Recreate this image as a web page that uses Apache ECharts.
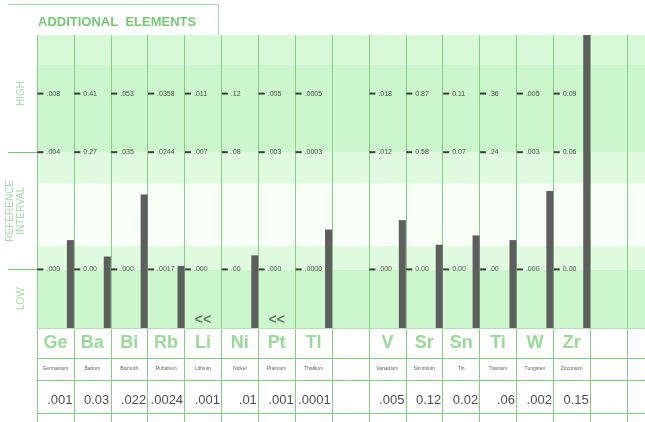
<!DOCTYPE html>
<html>
<head>
<meta charset="utf-8">
<script src="https://cdn.jsdelivr.net/npm/echarts@6/dist/echarts.min.js"></script>
<style>
  html, body { margin: 0; padding: 0; background: #fff; overflow: hidden; }
  /* the panel runs on past the right edge of the window, like the reference */
  #chart { width: 664px; height: 422px; }
</style>
</head>
<body>
<div id="chart"></div>
<script>
// columns of the panel, blanks are empty columns
const symbols = ['Ge', 'Ba', 'Bi', 'Rb', 'Li', 'Ni', 'Pt', 'Tl', '', 'V', 'Sr', 'Sn', 'Ti', 'W', 'Zr', '', ''];
const names = ['Germanium', 'Barium', 'Bismuth', 'Rubidium', 'Lithium', 'Nickel', 'Platinum', 'Thallium', '',
  'Vanadium', 'Strontium', 'Tin', 'Titanium', 'Tungsten', 'Zirconium', '', ''];
const results = ['.001', '0.03', '.022', '.0024', '.001', '.01', '.001', '.0001', '',
  '.005', '0.12', '0.02', '.06', '.002', '0.15', '', ''];
const highLabels = ['.008', '0.41', '.053', '.0358', '.011', '.12', '.005', '.0005', '',
  '.018', '0.87', '0.11', '.36', '.005', '0.09', '', ''];
const refHighLabels = ['.004', '0.27', '.035', '.0244', '.007', '.08', '.003', '.0003', '',
  '.012', '0.58', '0.07', '.24', '.003', '0.06', '', ''];
const refLowLabels = ['.000', '0.00', '.000', '.0017', '.000', '.00', '.000', '.0000', '',
  '.000', '0.00', '0.00', '.00', '.000', '0.00', '', ''];
// bar tops on the panel scale: 0 = bottom, 0.5 = ref low, 1.5 = ref high, 2.5 = top
const barLevels = [0.75, 0.61, 1.14, 0.53, null, 0.62, null, 0.84, null,
  0.92, 0.71, 0.79, 0.75, 1.17, 3.0, null, null];
const flags = ['', '', '', '', '<<', '', '<<', '', '', '', '', '', '', '', '', '', ''];

// where each row of column labels sits on the panel scale
const tickLevels = [2.0, 1.5, 0.5];
const tickLabelSets = [highLabels, refHighLabels, refLowLabels];
const sideLevels = [0.25, 1.0, 2.0];
const sideTexts = ['LOW', 'REFERENCE\nINTERVAL', 'HIGH'];

const keys = symbols.map((s, i) => 'c' + i);
const green = '#86cc86';
const font = 'Liberation Sans, Arial, sans-serif';

const tickPoints = [];
tickLevels.forEach((lv, k) => {
  tickLabelSets[k].forEach((t, i) => {
    if (t) tickPoints.push({ value: [i, lv], text: t });
  });
});

const rowPoints = (arr, y) => arr.map((t, i) => ({ value: [i, y], text: t })).filter(d => d.text);

const hidden = { color: 'rgba(0,0,0,0)' };

const myChart = echarts.init(document.getElementById('chart'));

const option = {
  animation: false,
  title: {
    text: 'ADDITIONAL  ELEMENTS',
    left: 33,
    top: 11,
    textStyle: { color: '#76c876', fontSize: 13, fontWeight: 'bold', fontFamily: font },
  },
  graphic: [{
    type: 'polyline',
    shape: { points: [[8, 4.5], [218.5, 4.5], [218.5, 35]] },
    style: { stroke: '#a8d4a8', fill: null, lineWidth: 1 },
  }],
  grid: [
    { left: 37, top: 35, right: 0, height: 293 },
    { left: 37, top: 328, right: 0, height: 94 },
  ],
  xAxis: [
    {
      gridIndex: 0, type: 'category', data: keys, position: 'top', z: 2,
      axisLine: { show: true, lineStyle: { color: '#b8dcb8' } },
      axisTick: { show: false }, axisLabel: { show: false },
      splitLine: { show: true, interval: 0, lineStyle: { color: green, width: 1 } },
    },
    {
      gridIndex: 1, type: 'category', data: keys, z: 2,
      axisLine: { show: false }, axisTick: { show: false }, axisLabel: { show: false },
      splitLine: { show: true, interval: 0, lineStyle: { color: green, width: 1 } },
    },
  ],
  yAxis: [
    {
      gridIndex: 0, type: 'value', min: 0, max: 2.5, interval: 0.25,
      axisLine: { show: false },
      splitLine: { show: false },
      axisTick: { show: true, customValues: [0.5, 1.5], length: 29, lineStyle: { color: '#7cc47c' } },
      axisLabel: {
        customValues: sideLevels,
        rotate: 90,
        margin: 10,
        color: '#a6dca6',
        fontSize: 10,
        lineHeight: 11,
        fontFamily: font,
        formatter: v => sideTexts[sideLevels.indexOf(v)] || '',
      },
    },
    { gridIndex: 1, type: 'value', min: 0, max: 94, inverse: true, show: false },
  ],
  series: [
    {
      // empty companion that pushes the real bar to the right edge of its column
      type: 'bar', xAxisIndex: 0, yAxisIndex: 0,
      data: symbols.map(() => '-'),
      barWidth: '81%',
      barGap: '0%',
      silent: true,
      markArea: {
        silent: true,
        z: 1,
        data: [
          [{ yAxis: 0, itemStyle: { color: '#ccf7cc' } }, { yAxis: 0.5 }],
          [{ yAxis: 0.5, itemStyle: { color: '#e1fbe1' } }, { yAxis: 0.7 }],
          [{ yAxis: 0.7, itemStyle: { color: '#f7fff7' } }, { yAxis: 1.23 }],
          [{ yAxis: 1.23, itemStyle: { color: '#e1fbe1' } }, { yAxis: 1.5 }],
          [{ yAxis: 1.5, itemStyle: { color: '#ccf7cc' } }, { yAxis: 2.25 }],
          [{ yAxis: 2.25, itemStyle: { color: '#d8f9d8' } }, { yAxis: 2.5 }],
        ],
      },
    },
    {
      type: 'bar', xAxisIndex: 0, yAxisIndex: 0,
      data: barLevels.map(v => (v == null ? '-' : v)),
      barWidth: '19%',
      barGap: '0%',
      clip: true,
      z: 3,
      itemStyle: { color: '#5e5e5e' },
      silent: true,
    },
    {
      // little black dashes at the left of each column
      type: 'scatter', xAxisIndex: 0, yAxisIndex: 0, z: 4,
      symbol: 'rect', symbolSize: [6, 2], symbolOffset: [-15, 0],
      itemStyle: { color: '#111' },
      data: tickPoints,
      silent: true,
    },
    {
      type: 'scatter', xAxisIndex: 0, yAxisIndex: 0, z: 4,
      symbolSize: 1, itemStyle: hidden,
      data: tickPoints,
      silent: true,
      label: {
        show: true, position: 'right', distance: 0, offset: [-9.5, 0],
        formatter: p => p.data.text,
        fontSize: 7, color: '#222', fontFamily: font,
      },
    },
    {
      type: 'scatter', xAxisIndex: 0, yAxisIndex: 0, z: 4,
      symbolSize: 1, itemStyle: hidden,
      data: rowPoints(flags, 0.07),
      silent: true,
      label: {
        show: true, position: 'inside',
        formatter: p => p.data.text,
        fontSize: 14, fontWeight: 'bold', color: '#4c5c4c', fontFamily: font,
      },
    },
    {
      type: 'scatter', xAxisIndex: 1, yAxisIndex: 1, z: 4,
      symbolSize: 1, itemStyle: hidden,
      data: rowPoints(symbols, 15),
      silent: true,
      label: {
        show: true, position: 'inside',
        formatter: p => p.data.text,
        fontSize: 18, fontWeight: 'bold', color: '#80d080', fontFamily: font,
      },
    },
    {
      type: 'scatter', xAxisIndex: 1, yAxisIndex: 1, z: 4,
      symbolSize: 1, itemStyle: hidden,
      data: rowPoints(names, 41),
      silent: true,
      label: {
        show: true, position: 'inside',
        formatter: p => p.data.text,
        fontSize: 5, color: '#333', fontFamily: font,
      },
      markLine: {
        silent: true, symbol: 'none',
        label: { show: false },
        lineStyle: { color: green, type: 'solid', width: 1 },
        data: [{ yAxis: 30 }, { yAxis: 52 }, { yAxis: 85 }],
      },
    },
    {
      type: 'scatter', xAxisIndex: 1, yAxisIndex: 1, z: 4,
      symbolSize: 1, itemStyle: hidden,
      data: rowPoints(results, 72),
      silent: true,
      label: {
        show: true, position: 'inside', align: 'right', offset: [17, 0],
        formatter: p => p.data.text,
        fontSize: 13, color: '#222', fontFamily: font,
      },
    },
  ],
};

myChart.setOption(option);
window.addEventListener('resize', myChart.resize);
</script>
</body>
</html>
